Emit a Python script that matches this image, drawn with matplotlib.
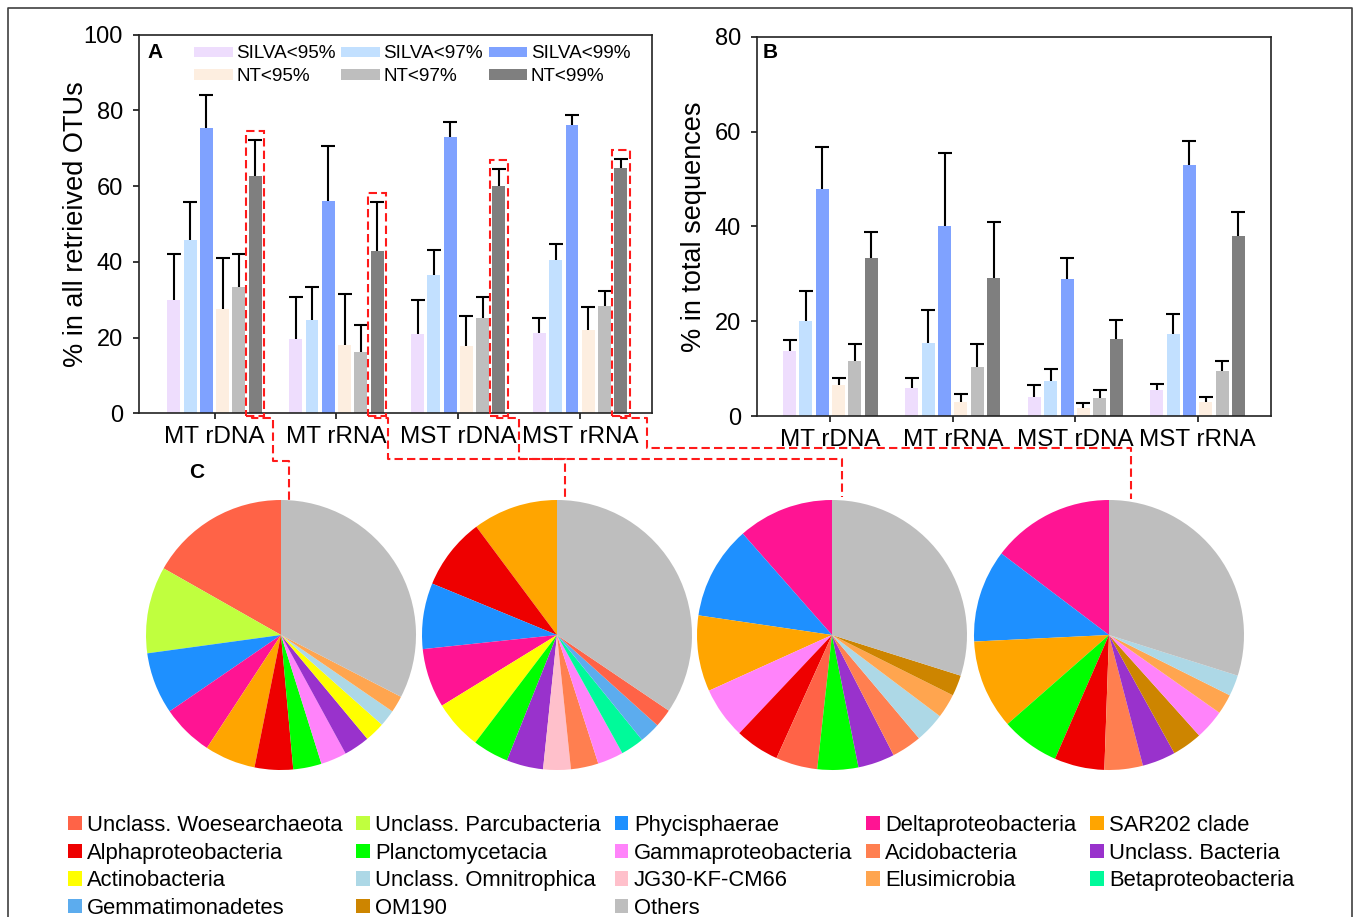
import matplotlib
matplotlib.use('Agg')
import matplotlib.pyplot as plt
import numpy as np
from matplotlib.patches import Rectangle, Patch
from matplotlib.lines import Line2D

plt.rcParams['font.family'] = ['Liberation Sans', 'DejaVu Sans']

# ---------------- data ----------------
categories = ['MT rDNA', 'MT rRNA', 'MST rDNA', 'MST rRNA']
series = ['SILVA<95%', 'SILVA<97%', 'SILVA<99%', 'NT<95%', 'NT<97%', 'NT<99%']
series_colors = ['#EEDDFD', '#C2E0FF', '#7FA2FF', '#FDEEE0', '#BEBEBE', '#7F7F7F']

# Panel A: % in all retrieved OTUs (mean, upper error)
otu_silva95 = [30.0, 19.7, 21.0, 21.2]
otu_silva97 = [45.8, 24.7, 36.4, 40.5]
otu_silva99 = [75.3, 56.0, 73.0, 76.2]
otu_nt95 = [27.5, 18.1, 17.8, 22.0]
otu_nt97 = [33.4, 16.2, 25.1, 28.4]
otu_nt99 = [62.8, 43.0, 60.0, 64.9]
otu_silva95_err = [12.0, 11.0, 8.9, 4.1]
otu_silva97_err = [10.0, 8.7, 6.8, 4.2]
otu_silva99_err = [8.8, 14.7, 3.9, 2.5]
otu_nt95_err = [13.5, 13.3, 8.0, 6.0]
otu_nt97_err = [8.8, 7.1, 5.6, 4.0]
otu_nt99_err = [9.4, 12.9, 4.5, 2.4]

# Panel B: % in total sequences
seq_silva95 = [13.7, 5.9, 4.1, 5.5]
seq_silva97 = [20.0, 15.5, 7.4, 17.3]
seq_silva99 = [47.8, 40.1, 28.9, 52.9]
seq_nt95 = [6.5, 3.1, 1.7, 3.1]
seq_nt97 = [11.6, 10.3, 3.9, 9.5]
seq_nt99 = [33.4, 29.2, 16.3, 38.1]
seq_silva95_err = [2.4, 2.1, 2.5, 1.4]
seq_silva97_err = [6.4, 7.0, 2.6, 4.2]
seq_silva99_err = [9.0, 15.3, 4.4, 5.2]
seq_nt95_err = [1.6, 1.7, 1.0, 1.0]
seq_nt97_err = [3.6, 5.0, 1.6, 2.1]
seq_nt99_err = [5.5, 11.7, 4.0, 5.0]

# Panel C: taxonomic composition of NT<99% OTUs (%), counter-clockwise from top
taxa = ['Unclass. Woesearchaeota', 'Unclass. Parcubacteria', 'Phycisphaerae',
        'Deltaproteobacteria', 'SAR202 clade', 'Alphaproteobacteria',
        'Planctomycetacia', 'Gammaproteobacteria', 'Acidobacteria',
        'Unclass. Bacteria', 'Actinobacteria', 'Unclass. Omnitrophica',
        'JG30-KF-CM66', 'Elusimicrobia', 'Betaproteobacteria',
        'Gemmatimonadetes', 'OM190', 'Others']
taxa_colors = ['#FF6347', '#C0FF3E', '#1E90FF', '#FF1493', '#FFA500', '#EE0000',
               '#00FF00', '#FF83FA', '#FF7F50', '#9932CC', '#FFFF00', '#ADD8E6',
               '#FFC0CB', '#FFA54F', '#00FA9A', '#5CACEE', '#CD8500', '#BEBEBE']

pie_mt_rdna_taxa = ['Unclass. Woesearchaeota', 'Unclass. Parcubacteria', 'Phycisphaerae',
                    'Deltaproteobacteria', 'SAR202 clade', 'Alphaproteobacteria',
                    'Planctomycetacia', 'Gammaproteobacteria', 'Unclass. Bacteria',
                    'Actinobacteria', 'Unclass. Omnitrophica', 'Elusimicrobia', 'Others']
pie_mt_rdna_values = [16.8, 10.4, 7.4, 6.2, 6.1, 4.6, 3.4, 3.1, 3.1, 2.4, 2.0, 2.0, 32.6]

pie_mt_rrna_taxa = ['SAR202 clade', 'Alphaproteobacteria', 'Phycisphaerae',
                    'Deltaproteobacteria', 'Actinobacteria', 'Planctomycetacia',
                    'Unclass. Bacteria', 'JG30-KF-CM66', 'Acidobacteria',
                    'Gammaproteobacteria', 'Betaproteobacteria', 'Gemmatimonadetes',
                    'Unclass. Woesearchaeota', 'Others']
pie_mt_rrna_values = [10.2, 8.6, 7.9, 7.1, 5.9, 4.3, 4.4, 3.3, 3.3, 3.1, 2.8, 2.5, 2.2, 34.5]

pie_mst_rdna_taxa = ['Deltaproteobacteria', 'Phycisphaerae', 'SAR202 clade',
                     'Gammaproteobacteria', 'Alphaproteobacteria', 'Unclass. Woesearchaeota',
                     'Planctomycetacia', 'Unclass. Bacteria', 'Acidobacteria',
                     'Unclass. Omnitrophica', 'Elusimicrobia', 'OM190', 'Others']
pie_mst_rdna_values = [11.5, 11.2, 9.1, 6.2, 5.3, 5.0, 4.9, 4.4, 3.6, 3.6, 2.9, 2.5, 29.9]

pie_mst_rrna_taxa = ['Deltaproteobacteria', 'Phycisphaerae', 'SAR202 clade',
                     'Planctomycetacia', 'Alphaproteobacteria', 'Acidobacteria',
                     'Unclass. Bacteria', 'OM190', 'Gammaproteobacteria',
                     'Elusimicrobia', 'Unclass. Omnitrophica', 'Others']
pie_mst_rrna_values = [14.7, 11.1, 10.7, 7.0, 6.0, 4.6, 4.0, 3.6, 3.6, 2.4, 2.5, 29.9]

# ---------------- figure ----------------
W, H = 1357, 917
fig = plt.figure(figsize=(W / 100, H / 100), dpi=100)


def fx(px):
    return px / W


def fy(py):
    return 1 - py / H


axA = fig.add_axes([fx(139), fy(413.3), fx(652) - fx(139), fy(34.7) - fy(413.3)])
axB = fig.add_axes([fx(757), fy(416.3), fx(1271) - fx(757), fy(36.7) - fy(416.3)])

xpos = np.arange(len(categories))
step = 0.1335
bw = 0.106
offsets = (np.arange(6) - 2.5) * step


def draw_panel(ax, vals, errs, ymax, xlim, ylabel):
    handles = []
    for i, (v, e) in enumerate(zip(vals, errs)):
        b = ax.bar(xpos + offsets[i], v, bw, color=series_colors[i], label=series[i],
                   linewidth=0, zorder=2)
        eb = ax.errorbar(xpos + offsets[i], v, yerr=[np.zeros(len(v)), e], fmt='none',
                         ecolor='black', elinewidth=1.5, capsize=4.7, capthick=1.5, zorder=3)
        caps = eb.lines[1]
        if len(caps) == 2:
            caps[0].set_visible(False)
        handles.append(b)
    ax.set_xlim(*xlim)
    ax.set_ylim(0, ymax)
    ax.set_yticks(np.arange(0, ymax + 1, 20))
    ax.set_xticks(xpos)
    ax.set_xticklabels(categories, fontsize=17.5)
    ax.tick_params(axis='y', direction='out', length=4.5, width=1.1, labelsize=17, pad=7)
    ax.tick_params(axis='x', direction='out', length=4.5, width=1.1, pad=5)
    for s in ax.spines.values():
        s.set_linewidth(1.2)
        s.set_color('#222222')
    ax.set_ylabel(ylabel, fontsize=19.5)
    ax.yaxis.set_label_coords(-0.097, 0.5)
    return handles


vals_A = [otu_silva95, otu_silva97, otu_silva99, otu_nt95, otu_nt97, otu_nt99]
errs_A = [otu_silva95_err, otu_silva97_err, otu_silva99_err, otu_nt95_err, otu_nt97_err, otu_nt99_err]
vals_B = [seq_silva95, seq_silva97, seq_silva99, seq_nt95, seq_nt97, seq_nt99]
errs_B = [seq_silva95_err, seq_silva97_err, seq_silva99_err, seq_nt95_err, seq_nt97_err, seq_nt99_err]

hA = draw_panel(axA, vals_A, errs_A, 100, (-0.62, 3.59), '% in all retrieived OTUs')
hB = draw_panel(axB, vals_B, errs_B, 80, (-0.6, 3.6), '% in total sequences')

order = [0, 3, 1, 4, 2, 5]
axA.legend([hA[i] for i in order], [series[i] for i in order], ncol=3,
           loc='upper left', bbox_to_anchor=(fx(194), fy(45.5)), bbox_transform=fig.transFigure,
           frameon=False, fontsize=13.6, handlelength=2.04, handleheight=0.45,
           handletextpad=0.19, columnspacing=0.3, labelspacing=0.3, borderpad=0,
           borderaxespad=0)

# red dashed boxes around NT<99% bars
red = '#FF1A1A'
dash = (0, (4, 2))
for j in range(len(categories)):
    xc = xpos[j] + offsets[5]
    top = otu_nt99[j] + otu_nt99_err[j] + 2.3
    axA.add_patch(Rectangle((xc - bw / 2 - 0.022, -0.6), bw + 0.044, top + 0.6, fill=False,
                            edgecolor=red, linestyle=dash, linewidth=1.5, clip_on=False,
                            zorder=4))

# connectors (figure pixel coordinates)
connectors = [
    [(252, 416), (252, 418), (273, 418), (273, 461), (289, 461), (289, 500)],
    [(375, 416), (375, 418), (388, 418), (388, 459), (565, 459), (565, 497)],
    [(497, 416), (497, 418), (519, 418), (519, 459), (842, 459), (842, 497)],
    [(621, 416), (621, 418), (647, 418), (647, 448), (1131, 448), (1131, 499)],
]
for path in connectors:
    xs = [fx(p[0]) for p in path]
    ys = [fy(p[1]) for p in path]
    fig.add_artist(Line2D(xs, ys, transform=fig.transFigure, color=red, linestyle=dash,
                          linewidth=1.5))

# pies
color_of = dict(zip(taxa, taxa_colors))
pie_sets = [(pie_mt_rdna_taxa, pie_mt_rdna_values), (pie_mt_rrna_taxa, pie_mt_rrna_values),
            (pie_mst_rdna_taxa, pie_mst_rdna_values), (pie_mst_rrna_taxa, pie_mst_rrna_values)]
pie_cx = [281, 557, 832, 1109]
R = 135
for (tx, vv), cx in zip(pie_sets, pie_cx):
    ax = fig.add_axes([fx(cx - R), fy(635 + R), 2 * R / W, 2 * R / H])
    ax.pie(vv, colors=[color_of[t] for t in tx], startangle=90, counterclock=True,
           radius=1, wedgeprops=dict(linewidth=0))
    ax.set_xlim(-1, 1)
    ax.set_ylim(-1, 1)
    ax.set_aspect('equal')
    ax.axis('off')

# legend for pies (row-wise order -> column-major for matplotlib)
ncol = 5
rows = [taxa[i:i + ncol] for i in range(0, len(taxa), ncol)]
col_major = []
for c in range(ncol):
    for r in rows:
        if c < len(r):
            col_major.append(r[c])
fig.legend([Patch(facecolor=color_of[t], edgecolor='none') for t in col_major], col_major,
           ncol=ncol, loc='upper left', bbox_to_anchor=(fx(68), fy(815)),
           bbox_transform=fig.transFigure, frameon=False, fontsize=15.8,
           handlelength=0.62, handleheight=0.62, handletextpad=0.25,
           columnspacing=0.62, labelspacing=0.3, borderpad=0, borderaxespad=0)

# panel letters
fig.text(fx(155), fy(52), 'A', fontsize=15, fontweight='bold', ha='center', va='center')
fig.text(fx(770), fy(52), 'B', fontsize=15, fontweight='bold', ha='center', va='center')
fig.text(fx(197), fy(473), 'C', fontsize=15, fontweight='bold', ha='center', va='center')

# outer frame
fig.add_artist(Line2D([fx(8), fx(8), fx(1352), fx(1352)], [0, fy(8), fy(8), 0],
                      transform=fig.transFigure, color='#404040', linewidth=1.2))

fig.savefig('out.png', dpi=100)
